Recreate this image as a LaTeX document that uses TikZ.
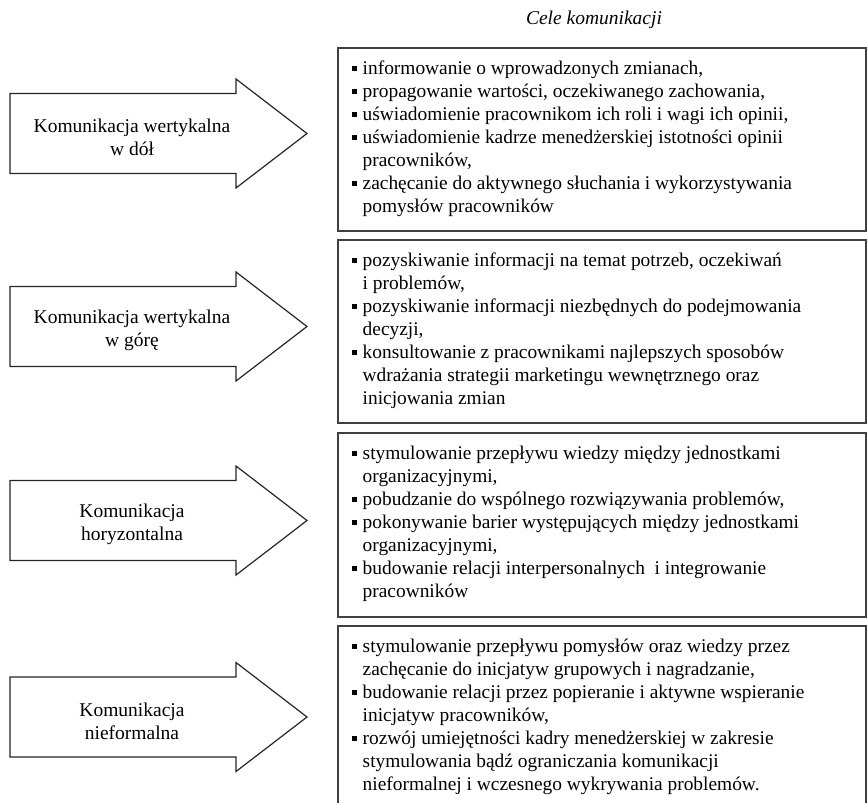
\documentclass[tikz,border=0pt]{standalone}
\usepackage{fontspec}
\setmainfont{Liberation Serif}

% bullet and hanging indent for the goal lists
\newcommand\goalbul{\makebox[10.5pt][l]{\rule[3.4pt]{4.5pt}{5pt}}}
\newcommand\goalcont{\hspace*{10.5pt}}

\begin{document}
\begin{tikzpicture}[x=1pt,y=-1pt,
  arrowshape/.style={draw=black!85, line width=1.2pt, fill=white, line join=miter},
  arrowtext/.style={align=center, inner sep=0pt, font=\fontsize{19.5}{23}\selectfont},
  goalbox/.style={draw=black!75, line width=1.8pt},
  goaltext/.style={anchor=base west, inner sep=0pt, font=\fontsize{19.4}{23}\selectfont},
  titletext/.style={anchor=base, inner sep=0pt, font=\itshape\fontsize{19.5}{23}\selectfont},
  commarrow/.pic={
    \draw[arrowshape] (10,-40) -- (236,-40) -- (236,-54.5) -- (307,0)
      -- (236,54.5) -- (236,40) -- (10,40) -- cycle;
  },
]
\useasboundingbox (0,0) rectangle (867,803);

% heading
\node[titletext] (title) at (594,24) {Cele komunikacji};

% arrows with the kinds of communication
\pic at (0,133.5) {commarrow};
\pic at (0,326.5) {commarrow};
\pic at (0,520.5) {commarrow};
\pic at (0,717) {commarrow};

\node[arrowtext] (k1) at (132,137.5) {Komunikacja wertykalna\\w dół};
\node[arrowtext] (k2) at (132,330.5) {Komunikacja wertykalna\\w górę};
\node[arrowtext] (k3) at (132,524.5) {Komunikacja\\horyzontalna};
\node[arrowtext] (k4) at (132,721) {Komunikacja\\nieformalna};

% boxes with the goals
\draw[goalbox] (338,48) rectangle (866,231);
\draw[goalbox] (338,240) rectangle (866,423);
\draw[goalbox] (338,433) rectangle (866,617);
\draw[goalbox] (338,803) -- (338,626) -- (866,626) -- (866,803);

\node[goaltext] (g1) at (352,74.5) {\parbox[t]{505pt}{%
\goalbul informowanie o wprowadzonych zmianach,\\
\goalbul propagowanie wartości, oczekiwanego zachowania,\\
\goalbul uświadomienie pracownikom ich roli i wagi ich opinii,\\
\goalbul uświadomienie kadrze menedżerskiej istotności opinii\\
\goalcont pracowników,\\
\goalbul zachęcanie do aktywnego słuchania i wykorzystywania\\
\goalcont pomysłów pracowników}};

\node[goaltext] (g2) at (352,266.5) {\parbox[t]{505pt}{%
\goalbul pozyskiwanie informacji na temat potrzeb, oczekiwań\\
\goalcont i problemów,\\
\goalbul pozyskiwanie informacji niezbędnych do podejmowania\\
\goalcont decyzji,\\
\goalbul konsultowanie z pracownikami najlepszych sposobów\\
\goalcont wdrażania strategii marketingu wewnętrznego oraz\\
\goalcont inicjowania zmian}};

\node[goaltext] (g3) at (352,459.5) {\parbox[t]{505pt}{%
\goalbul stymulowanie przepływu wiedzy między jednostkami\\
\goalcont organizacyjnymi,\\
\goalbul pobudzanie do wspólnego rozwiązywania problemów,\\
\goalbul pokonywanie barier występujących między jednostkami\\
\goalcont organizacyjnymi,\\
\goalbul budowanie relacji interpersonalnych\ \ i integrowanie\\
\goalcont pracowników}};

\node[goaltext] (g4) at (352,652.5) {\parbox[t]{505pt}{%
\goalbul stymulowanie przepływu pomysłów oraz wiedzy przez\\
\goalcont zachęcanie do inicjatyw grupowych i nagradzanie,\\
\goalbul budowanie relacji przez popieranie i aktywne wspieranie\\
\goalcont inicjatyw pracowników,\\
\goalbul rozwój umiejętności kadry menedżerskiej w zakresie\\
\goalcont stymulowania bądź ograniczania komunikacji\\
\goalcont nieformalnej i wczesnego wykrywania problemów.}};
\end{tikzpicture}
\end{document}
